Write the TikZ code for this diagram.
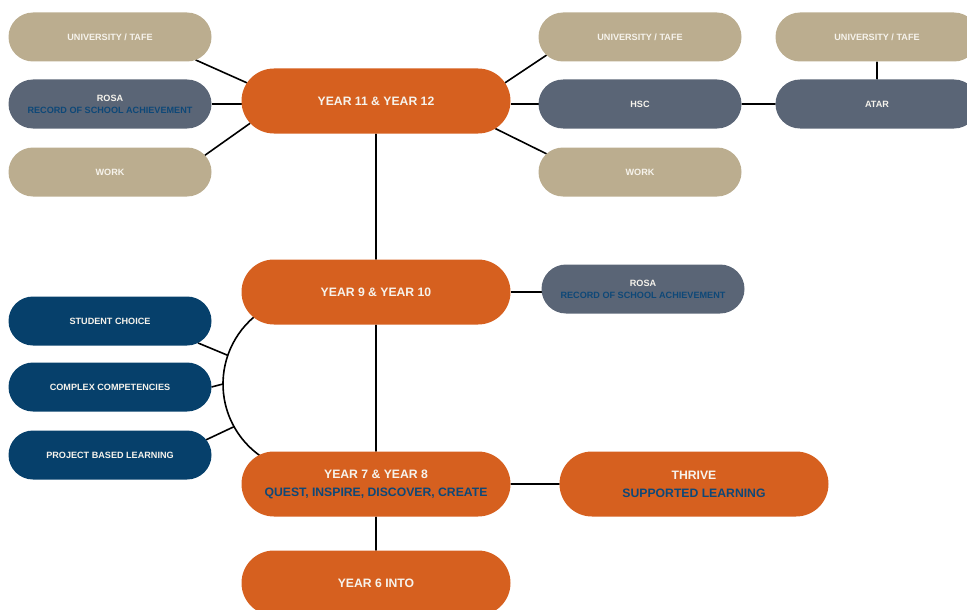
\documentclass[tikz,border=0pt]{standalone}
\usepackage{fontspec}
\setmainfont{Liberation Sans}
\usetikzlibrary{shapes.misc,backgrounds,calc}

\definecolor{rust}{HTML}{D6601F}
\definecolor{sand}{HTML}{BBAD8F}
\definecolor{slategrey}{HTML}{5A6576}
\definecolor{navy}{HTML}{06406B}
\definecolor{ink}{HTML}{0E4878}
\definecolor{paper}{HTML}{F6F3EC}

\tikzset{x=1pt, y=-1pt,
  pill/.style={rounded rectangle, inner sep=0pt, outer sep=0pt, text=paper, align=center},
  small/.style={pill, minimum width=203, minimum height=49,
    font=\bfseries\fontsize{9.1}{12}\selectfont},
  big/.style={pill, minimum width=269, minimum height=65, fill=rust,
    font=\bfseries\fontsize{12.2}{18}\selectfont},
  tanbox/.style={small, fill=sand},
  slatebox/.style={small, fill=slategrey},
  navybox/.style={small, fill=navy},
  link/.style={draw=black, line width=1.6pt}}

\begin{document}
\begin{tikzpicture}
  \useasboundingbox (0,0) rectangle (967,610);
  % year levels
  \node [big] (y11) at (376,101) {YEAR 11 \& YEAR 12};
  \node [big] (y9) at (376,292) {YEAR 9 \& YEAR 10};
  \node [big] (y7) at (376,484) {YEAR 7 \& YEAR 8\\\textcolor{ink}{QUEST, INSPIRE, DISCOVER, CREATE}};
  \node [big] (y6) at (376,583) {YEAR 6 INTO};
  \node [big] (thrive) at (694,484) {THRIVE\\\textcolor{ink}{SUPPORTED LEARNING}};
  % pathways after year 12
  \node [tanbox] (luni) at (110,37) {UNIVERSITY / TAFE};
  \node [slatebox] (lrosa) at (110,104) {ROSA\\\textcolor{ink}{RECORD OF SCHOOL ACHIEVEMENT}};
  \node [tanbox] (lwork) at (110,172) {WORK};
  \node [tanbox] (runi) at (640,37) {UNIVERSITY / TAFE};
  \node [slatebox] (hsc) at (640,104) {HSC};
  \node [tanbox] (rwork) at (640,172) {WORK};
  \node [tanbox] (auni) at (877,37) {UNIVERSITY / TAFE};
  \node [slatebox] (atar) at (877,104) {ATAR};
  \node [slatebox] (rosa) at (643,289) {ROSA\\\textcolor{ink}{RECORD OF SCHOOL ACHIEVEMENT}};
  % middle years
  \node [navybox] (choice) at (110,321) {STUDENT CHOICE};
  \node [navybox] (complex) at (110,387) {COMPLEX COMPETENCIES};
  \node [navybox] (pbl) at (110,455) {PROJECT BASED LEARNING};
  \coordinate (hub) at (311,384);

  \begin{scope}[on background layer]
  \begin{scope}[link]
    \draw (luni.-15) -- (y11.172);
    \draw (lrosa.east) -- (lrosa.east -| y11.west);
    \draw (lwork.10) -- (y11.190);
    \draw (y11.8) -- (runi.191);
    \draw (hsc.west) -- (hsc.west -| y11.east);
    \draw (y11.-13) -- (rwork.169);
    \draw (hsc) -- (atar);
    \draw (auni) -- (atar);
    \draw (y11) -- (y9);
    \draw (y9.east) -- (y9.east -| rosa.west);
    \draw (y9) -- (y7);
    \draw (y7) -- (thrive);
    \draw (y7) -- (y6);
    \draw (hub) ++(-130:88) arc [start angle=-130, end angle=-236, radius=88];
    \draw (choice.-14) -- ($(hub)+(-161:88)$);
    \draw (complex.east) -- ($(hub)+(-180:88)$);
    \draw (pbl.9) -- ($(hub)+(-209:88)$);
  \end{scope}
  \end{scope}
\end{tikzpicture}
\end{document}
